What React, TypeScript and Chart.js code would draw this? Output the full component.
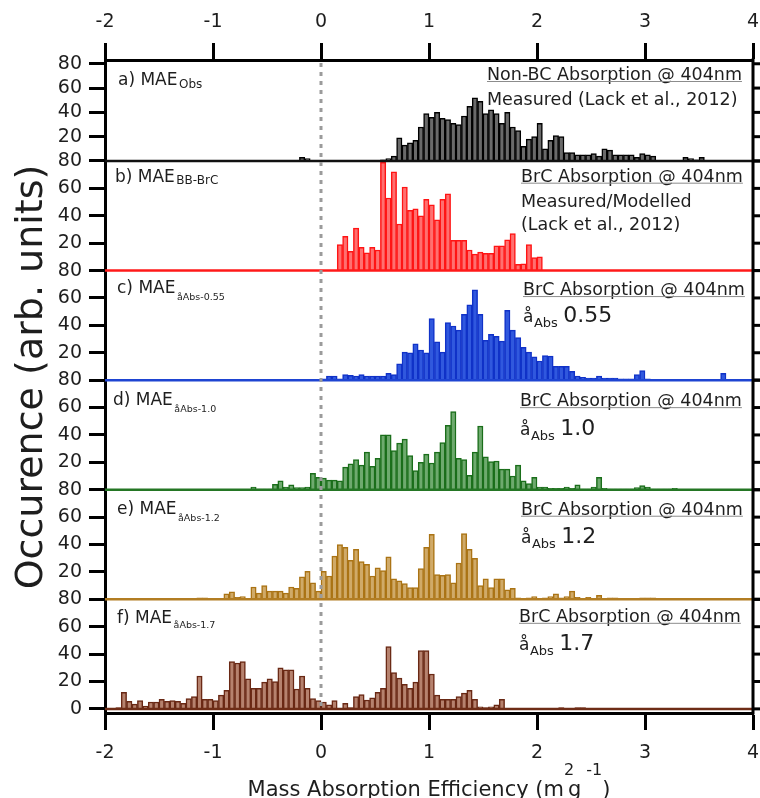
import React, { useEffect, useRef } from 'react';
import { Chart, registerables } from 'chart.js';

Chart.register(...registerables);

// ---------- data ----------
const binWidth = 0.05;
const xTickValues = [-2, -1, 0, 1, 2, 3, 4];
const yTickValues = [0, 20, 40, 60, 80];

// a) MAE_Obs  (first bin starts at -0.20)
const obsStart = -0.2;
const obsValues = [
  3, 2, 0, 0, 0, 0, 0, 0, 0, 0, 0, 0, 0, 0, 0,
  1, 2, 4, 19, 13, 15, 17, 28, 39, 36, 40, 35, 34, 31, 30, 37, 45, 52, 49, 39,
  42, 39, 31, 40, 28, 25, 12, 18, 20, 31, 10, 17, 21, 20, 7, 7, 5, 5, 5, 6,
  4, 10, 9, 5, 5, 5, 5, 3, 6, 5, 4, 0.5, 0.5, 0.5, 0.5, 0.5, 3, 2, 1, 3,
];

// b) MAE_BB-BrC (first bin starts at 0.15)
const bbBrcStart = 0.15;
const bbBrcValues = [
  19, 25, 14, 31, 17, 13, 17, 15, 79, 53, 72, 34, 61, 44, 45, 40, 52, 48, 37, 52,
  56, 22, 22, 22, 15, 12, 13.5, 12.5, 12.5, 18, 18, 22.5, 27, 4.5, 5, 19, 9.5, 10,
];

// c) AAE 0.55 (first bin starts at 0.00)
const aae055Start = 0;
const aae055Values = [
  1, 3, 3, 1, 4, 3.5, 3, 4, 3, 3, 3, 3, 5, 4, 12, 20.5, 20, 26.5, 22, 20,
  45, 28, 20.5, 42, 39.5, 36.5, 48, 55, 66, 48, 29, 33.5, 32, 28.5, 51, 36.5, 31, 24, 20.5, 17,
  14, 18, 17.5, 10, 10, 10, 6.5, 3, 2, 1.5, 1.5, 3, 1.5, 1.5, 1.5, 1, 1, 1, 4, 7,
  1, 0.5, 0.5, 0.5, 0.5, 0.5, 0.5, 0.5, 0.5, 0.5, 0.5, 0.5, 0.5, 0.5, 5,
];

// d) AAE 1.0 (first bin starts at -0.65)
const aae10Start = -0.65;
const aae10Values = [
  2, 0.5, 0.5, 0.5, 4, 6.5, 2, 3.5, 1.5, 1.5, 2, 12, 9,
  8.5, 7, 7, 6.5, 16.5, 19, 22, 18, 27.5, 17, 23, 40, 40, 28.5, 34, 37, 25, 14, 20, 26,
  19.5, 27.5, 34.5, 47, 57, 23, 22, 10.5, 27.5, 46.5, 24, 20.5, 21, 15, 15, 10, 18, 6.5, 4.5, 9,
  2, 2, 1, 1, 1, 2, 1, 3.5, 0.5, 0.5, 2, 9, 1, 0.5, 0.5, 0.5, 0.5, 0.5, 1.5, 3,
  2, 0.5, 0.5, 0.5, 0.5, 1,
];

// e) AAE 1.2 (first bin starts at -1.15)
const aae12Start = -1.15;
const aae12Values = [
  1, 1, 0.5, 0.5, 0.5, 4, 5.5, 1.5, 2, 0.5, 9, 4.5, 10, 6, 6, 6, 4.5, 9, 8, 16.5,
  20.5, 12, 6, 20.5, 17, 31.5, 40, 38, 28.5, 36.5, 27.5, 25.5, 17, 23, 21, 31, 15, 13.5, 11.5, 8.5,
  8.5, 22.5, 38, 47.5, 18, 17.5, 18, 12, 26.5, 48, 36.5, 30, 10, 15, 8.5, 15, 15, 7, 8, 1,
  0.5, 1, 2, 0.5, 1, 2, 4, 1, 2, 6, 1.5, 0.5, 1.5, 0.5, 3, 0.5, 1, 1, 0.5, 0,
  0, 0, 1, 1, 1,
];

// f) AAE 1.7 (first bin starts at -1.90)
const aae17Start = -1.9;
const aae17Values = [
  1, 12, 5.5, 3.5, 6, 2, 5, 5, 7, 5.5, 6, 5.5, 4, 7.5, 9, 24, 7, 7, 6, 10,
  13.5, 34.5, 33.5, 34.5, 22, 15, 15, 19.5, 22, 20, 30, 28.5, 28.5, 14.5, 24, 15, 7.5, 6, 5, 3,
  6, 0.5, 4, 1, 9, 10.5, 6.5, 8, 12, 15, 45.5, 26.5, 22.5, 18, 15, 19.5, 42.5, 42.5, 25.5, 10,
  7, 7, 7, 9, 11.5, 13.5, 7, 1.5, 1, 1.5, 3, 7, 0.5, 0.5, 0.5, 0.5, 0, 0, 0, 0,
  0, 0, 1, 0, 0, 1, 1,
];

// ---------- styling ----------
const FONT = '"DejaVu Sans", "Liberation Sans", sans-serif';
const INK = '#1e1e1e';

const panels = [
  { id: 'yA', start: obsStart, values: obsValues, min: 0, max: 83.1, stackWeight: 101, showZero: false,
    fill: 'rgb(106,106,106)', edge: '#000000', base: '#111111' },
  { id: 'yB', start: bbBrcStart, values: bbBrcValues, min: 0, max: 80, stackWeight: 109.6, showZero: false,
    fill: 'rgb(255,112,112)', edge: 'rgb(255,20,20)', base: 'rgb(255,25,25)' },
  { id: 'yC', start: aae055Start, values: aae055Values, min: 0, max: 80, stackWeight: 109.6, showZero: false,
    fill: 'rgb(48,88,222)', edge: 'rgb(16,50,200)', base: 'rgb(30,68,210)' },
  { id: 'yD', start: aae10Start, values: aae10Values, min: 0, max: 80, stackWeight: 109.6, showZero: false,
    fill: 'rgb(110,170,110)', edge: 'rgb(26,110,26)', base: 'rgb(36,118,36)' },
  { id: 'yE', start: aae12Start, values: aae12Values, min: 0, max: 80, stackWeight: 109.6, showZero: false,
    fill: 'rgb(208,170,104)', edge: 'rgb(170,115,20)', base: 'rgb(178,125,35)' },
  { id: 'yF', start: aae17Start, values: aae17Values, min: -3, max: 80, stackWeight: 113.7, showZero: true,
    fill: 'rgb(182,130,110)', edge: 'rgb(105,40,20)', base: 'rgb(110,44,22)' },
];

const panelTexts = [
  { lx: 118, lb: 25, main: 'a) MAE', sub: 'Obs', subSize: 12, subDrop: 2.5,
    rx: 487, rb: 20, head: 'Non-BC Absorption @ 404nm', extra: [['Measured (Lack et al., 2012)', 45]] },
  { lx: 115, lb: 21, main: 'b) MAE', sub: 'BB-BrC', subSize: 12, subDrop: 2,
    rx: 521, rb: 20.7, head: 'BrC Absorption @ 404nm', extra: [['Measured/Modelled', 45.7], ['(Lack et al., 2012)', 69]] },
  { lx: 117, lb: 22.5, main: 'c) MAE', sub: 'åAbs-0.55', subSize: 9.5, subDrop: 7,
    rx: 523, rb: 24.5, head: 'BrC Absorption @ 404nm', aae: '0.55', aaeB: 51.5 },
  { lx: 113, lb: 25, main: 'd) MAE', sub: 'åAbs-1.0', subSize: 9.5, subDrop: 7,
    rx: 520, rb: 26, head: 'BrC Absorption @ 404nm', aae: '1.0', aaeB: 55 },
  { lx: 117, lb: 24, main: 'e) MAE', sub: 'åAbs-1.2', subSize: 9.5, subDrop: 7,
    rx: 521, rb: 25, head: 'BrC Absorption @ 404nm', aae: '1.2', aaeB: 53 },
  { lx: 117, lb: 23.5, main: 'f) MAE', sub: 'åAbs-1.7', subSize: 9.5, subDrop: 5,
    rx: 519, rb: 22.5, head: 'BrC Absorption @ 404nm', aae: '1.7', aaeB: 50.5 },
];

function toPoints(start: number, values: number[]) {
  return values.map((v, i) => ({ x: Number((start + binWidth * (i + 0.5)).toFixed(4)), y: v }));
}

const tickFont = { family: FONT, size: 19 };

function yScale(p: any, i: number) {
  return {
    type: 'linear',
    position: 'left',
    stack: 'panels',
    stackWeight: p.stackWeight,
    weight: 10 - i,
    min: p.min,
    max: p.max,
    afterBuildTicks: (s: any) => { s.ticks = yTickValues.map((v) => ({ value: v })); },
    afterFit: (s: any) => { s.width = 105; },
    ticks: {
      autoSkip: false,
      padding: 7,
      color: INK,
      font: tickFont,
      callback: (v: any) => (v === 0 && !p.showZero ? '' : String(v)),
    },
    grid: { drawOnChartArea: false, drawTicks: true, tickLength: 16, tickWidth: 3, tickColor: '#000' },
    border: { display: true, color: '#000', width: 3 },
  };
}

function xScale(position: string, height: number, pad: number) {
  return {
    type: 'linear',
    position,
    min: -2,
    max: 4,
    offset: false,
    afterBuildTicks: (s: any) => { s.ticks = xTickValues.map((v) => ({ value: v })); },
    afterFit: (s: any) => { s.height = height; s.paddingLeft = 0; s.paddingRight = 0; },
    ticks: { autoSkip: false, maxRotation: 0, padding: pad, color: INK, font: tickFont, callback: (v: any) => String(v) },
    grid: { offset: false, drawOnChartArea: false, drawTicks: true, tickLength: 17, tickWidth: 3, tickColor: '#000' },
    border: { display: true, color: '#000', width: 3 },
  };
}

function setFont(ctx: CanvasRenderingContext2D, size: number) {
  ctx.font = `${size}px ${FONT}`;
}

const decorations = {
  id: 'decorations',
  afterDatasetsDraw(chart: any) {
    const { ctx, chartArea } = chart;
    const { left, right, top, bottom } = chartArea;
    ctx.save();
    panels.forEach((p) => {
      const s = chart.scales[p.id];
      const y0 = s.getPixelForValue(0);
      ctx.strokeStyle = p.base;
      ctx.lineWidth = 2.5;
      ctx.beginPath();
      ctx.moveTo(left, y0);
      ctx.lineTo(right, y0);
      ctx.stroke();
    });
    const x0 = chart.scales.x.getPixelForValue(0);
    const yEnd = chart.scales.yF.getPixelForValue(0);
    ctx.strokeStyle = '#9b9b9b';
    ctx.lineWidth = 3;
    ctx.setLineDash([4, 5]);
    ctx.beginPath();
    ctx.moveTo(x0, top + 3);
    ctx.lineTo(x0, yEnd);
    ctx.stroke();
    ctx.setLineDash([]);
    ctx.strokeStyle = '#000';
    ctx.lineWidth = 3;
    ctx.beginPath();
    ctx.moveTo(right, top - 1.5);
    ctx.lineTo(right, bottom + 1.5);
    ctx.stroke();
    panels.forEach((p) => {
      const s = chart.scales[p.id];
      s.ticks.forEach((t: any) => {
        const y = s.getPixelForValue(t.value);
        ctx.beginPath();
        ctx.moveTo(right, y);
        ctx.lineTo(right + 8, y);
        ctx.stroke();
      });
    });
    ctx.restore();
  },
  afterDraw(chart: any) {
    const { ctx, chartArea } = chart;
    ctx.save();
    ctx.fillStyle = INK;
    ctx.textAlign = 'left';
    ctx.textBaseline = 'alphabetic';
    panels.forEach((p, i) => {
      const t: any = panelTexts[i];
      const top = chart.scales[p.id].top;
      setFont(ctx, 17);
      ctx.fillText(t.main, t.lx, top + t.lb);
      const mw = ctx.measureText(t.main).width;
      setFont(ctx, t.subSize);
      ctx.fillText(t.sub, t.lx + mw + 1.5, top + t.lb + t.subDrop);
      setFont(ctx, 17.5);
      ctx.fillText(t.head, t.rx, top + t.rb);
      const hw = ctx.measureText(t.head).width;
      ctx.strokeStyle = '#8c8c8c';
      ctx.lineWidth = 1;
      ctx.beginPath();
      ctx.moveTo(t.rx, top + t.rb + 1.5);
      ctx.lineTo(t.rx + hw, top + t.rb + 1.5);
      ctx.stroke();
      if (t.extra) {
        t.extra.forEach(([txt, b]: [string, number]) => ctx.fillText(txt, t.rx, top + b));
      }
      if (t.aae) {
        const b = top + t.aaeB;
        setFont(ctx, 17);
        ctx.fillText('å', t.rx, b);
        const aw = ctx.measureText('å').width;
        setFont(ctx, 13);
        ctx.fillText('Abs', t.rx + aw + 0.5, b + 5);
        const sw = ctx.measureText('Abs').width;
        setFont(ctx, 22);
        ctx.fillText(t.aae, t.rx + aw + sw + 6, b);
      }
    });
    ctx.save();
    setFont(ctx, 38);
    ctx.textAlign = 'center';
    ctx.translate(42, 377);
    ctx.rotate(-Math.PI / 2);
    ctx.fillText('Occurence (arb. units)', 0, 0);
    ctx.restore();
    const base = 796;
    const supBase = 775;
    const t1 = 'Mass Absorption Efficiency (m';
    setFont(ctx, 21);
    const w1 = ctx.measureText(t1).width;
    const wg = ctx.measureText('g').width;
    const wp = ctx.measureText(')').width;
    setFont(ctx, 16);
    const wm = ctx.measureText('-1').width;
    const total = w1 + 4 + wg + 5 + wm + wp;
    let x = (chartArea.left + chartArea.right) / 2 - total / 2;
    setFont(ctx, 21);
    ctx.fillText(t1, x, base);
    x += w1;
    setFont(ctx, 16);
    ctx.fillText('2', x, supBase);
    x += 4;
    setFont(ctx, 21);
    ctx.fillText('g', x, base);
    x += wg + 5;
    setFont(ctx, 16);
    ctx.fillText('-1', x, supBase);
    x += wm;
    setFont(ctx, 21);
    ctx.fillText(')', x, base);
    ctx.restore();
  },
};

function buildConfig(): any {
  const scales: any = {
    x: xScale('bottom', 85, 12),
    x2: xScale('top', 60, 10),
  };
  panels.forEach((p, i) => { scales[p.id] = yScale(p, i); });
  return {
    type: 'bar',
    data: {
      datasets: panels.map((p) => ({
        data: toPoints(p.start, p.values),
        xAxisID: 'x',
        yAxisID: p.id,
        backgroundColor: p.fill,
        borderColor: p.edge,
        borderWidth: 1.5,
        barPercentage: 1,
        categoryPercentage: 1,
        grouped: false,
      })),
    },
    options: {
      responsive: false,
      maintainAspectRatio: false,
      devicePixelRatio: 1,
      animation: false,
      events: [],
      layout: { padding: { left: 0, right: 7, top: 0, bottom: 0 } },
      plugins: { legend: { display: false }, tooltip: { enabled: false }, title: { display: false } },
      scales,
    },
    plugins: [decorations],
  };
}

export default function App() {
  const ref = useRef<HTMLCanvasElement | null>(null);
  useEffect(() => {
    const canvas = ref.current;
    if (!canvas) return;
    const chart = new Chart(canvas, buildConfig());
    return () => chart.destroy();
  }, []);
  return (
    <div style={{ position: 'absolute', left: 0, top: 0, width: 760, height: 798, background: '#fff' }}>
      <canvas ref={ref} width={760} height={798} style={{ display: 'block', width: 760, height: 798 }} />
    </div>
  );
}
